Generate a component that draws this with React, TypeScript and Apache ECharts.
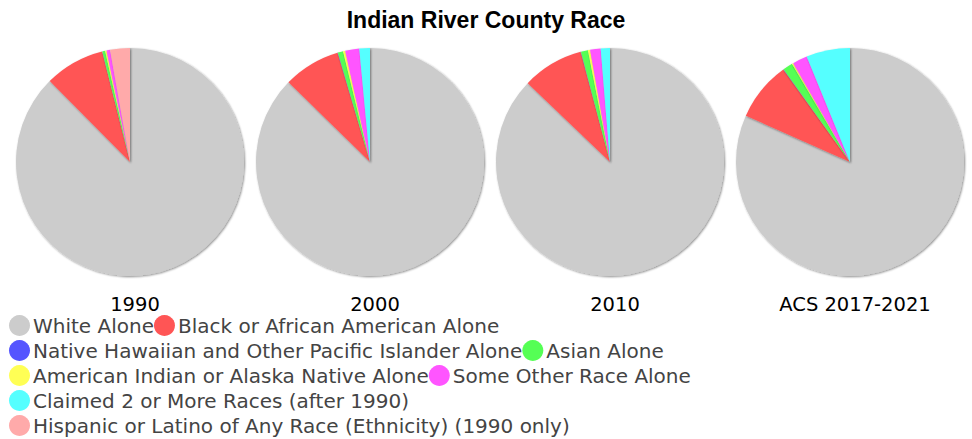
import React, { useEffect, useRef } from "react";
import * as echarts from "echarts";

const categories = [
  "White Alone",
  "Black or African American Alone",
  "Native Hawaiian and Other Pacific Islander Alone",
  "Asian Alone",
  "American Indian or Alaska Native Alone",
  "Some Other Race Alone",
  "Claimed 2 or More Races (after 1990)",
  "Hispanic or Latino of Any Race (Ethnicity) (1990 only)",
];
const colors = ["#cccccc", "#ff5555", "#5555ff", "#55ff55", "#ffff55", "#ff55ff", "#55ffff", "#ffaaaa"];
const years = ["1990", "2000", "2010", "ACS 2017-2021"];
const v1990 = [87.5, 8.5, 0.03, 0.4, 0.2, 0.5, 0, 2.8];
const v2000 = [87.4, 8.1, 0.05, 0.75, 0.3, 2.0, 1.5, 0];
const v2010 = [87.2, 8.7, 0.05, 1.0, 0.3, 1.5, 1.3, 0];
const vACS = [81.7, 8.4, 0.05, 1.4, 0.2, 2.1, 6.2, 0];
const values = [v1990, v2000, v2010, vACS];

export default function App() {
  const ref = useRef<HTMLDivElement>(null);
  useEffect(() => {
    document.body.style.margin = "0";
    const chart = echarts.init(ref.current!, undefined, { renderer: "svg" });
    const centersX = [130, 370, 610, 850];
    chart.setOption({
      animation: false,
      color: colors,
      title: [
        {
          text: "Indian River County Race",
          left: "center",
          top: 3,
          textStyle: { fontFamily: "Liberation Sans", fontWeight: "bold", fontSize: 23, color: "#000" },
        },
        ...years.map((y, i) => ({
          text: y,
          left: centersX[i],
          textAlign: "center",
          top: 289,
          textStyle: { fontFamily: "DejaVu Sans", fontWeight: "normal", fontSize: 19.5, color: "#000" },
        })),
      ],
      legend: {
        data: categories,
        left: 9,
        top: 313,
        width: 940,
        itemWidth: 21,
        itemHeight: 21,
        itemGap: 0,
        icon: "circle",
        padding: 0,
        textStyle: { fontFamily: "DejaVu Sans", fontSize: 20, color: "#444", lineHeight: 25, padding: [0, 0, 0, -2] },
      },
      series: values.map((vals, i) => ({
        type: "pie",
        name: years[i],
        center: [centersX[i], 162],
        radius: 114,
        startAngle: 90,
        clockwise: true,
        label: { show: false },
        labelLine: { show: false },
        emphasis: { disabled: true },
        itemStyle: {
          shadowBlur: 2,
          shadowOffsetX: 1,
          shadowOffsetY: 1,
          shadowColor: "rgba(0,0,0,0.45)",
        },
        data: categories.map((c, k) => ({ name: c, value: vals[k] })),
      })),
    });
    return () => chart.dispose();
  }, []);
  return <div ref={ref} style={{ width: 972, height: 439 }} />;
}
